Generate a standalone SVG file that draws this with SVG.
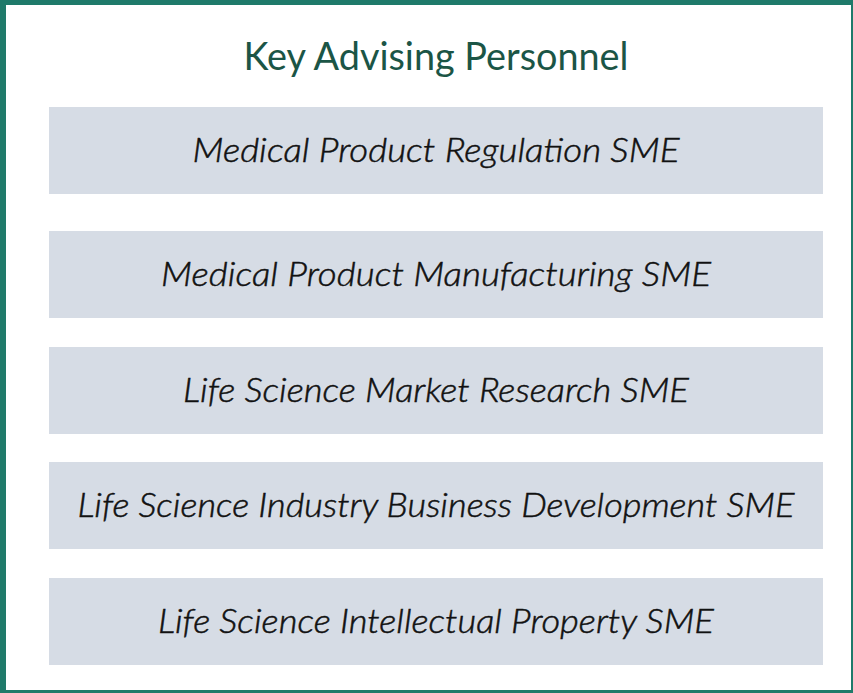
<svg xmlns="http://www.w3.org/2000/svg" width="853" height="693" viewBox="0 0 853 693">
  <style>
    .frame { fill: #1F7A6A; }
    .title { font-family: Lato, "Open Sans", "Liberation Sans", sans-serif; font-size: 38px; font-weight: 400; fill: #1B5546; text-anchor: middle; }
    .box { fill: #D6DCE5; }
    .label { font-family: Lato, "Open Sans", "Liberation Sans", sans-serif; font-style: italic; font-weight: 300; font-size: 33px; fill: #111111; stroke: #111111; stroke-width: 0.5px; text-anchor: middle; }
  </style>
  <rect width="853" height="693" fill="#FFFFFF"/>
  <!-- outer frame -->
  <path class="frame" fill-rule="evenodd" d="M0 0H853V693H0Z M6 5V690H851V5Z"/>
  <text class="title" x="436" y="70" textLength="385" lengthAdjust="spacingAndGlyphs">Key Advising Personnel</text>
  <g id="regulation">
    <rect class="box" x="49" y="107" width="774" height="87"/>
    <text class="label" x="436" y="162" textLength="487" lengthAdjust="spacingAndGlyphs">Medical Product Regulation SME</text>
  </g>
  <g id="manufacturing">
    <rect class="box" x="49" y="231" width="774" height="87"/>
    <text class="label" x="436" y="286" textLength="550" lengthAdjust="spacingAndGlyphs">Medical Product Manufacturing SME</text>
  </g>
  <g id="market-research">
    <rect class="box" x="49" y="347" width="774" height="87"/>
    <text class="label" x="436" y="402" textLength="506" lengthAdjust="spacingAndGlyphs">Life Science Market Research SME</text>
  </g>
  <g id="business-development">
    <rect class="box" x="49" y="462" width="774" height="87"/>
    <text class="label" x="436" y="517" textLength="717" lengthAdjust="spacingAndGlyphs">Life Science Industry Business Development SME</text>
  </g>
  <g id="intellectual-property">
    <rect class="box" x="49" y="578" width="774" height="87"/>
    <text class="label" x="436" y="633" textLength="556" lengthAdjust="spacingAndGlyphs">Life Science Intellectual Property SME</text>
  </g>
  <g id="connectors"/>
</svg>
